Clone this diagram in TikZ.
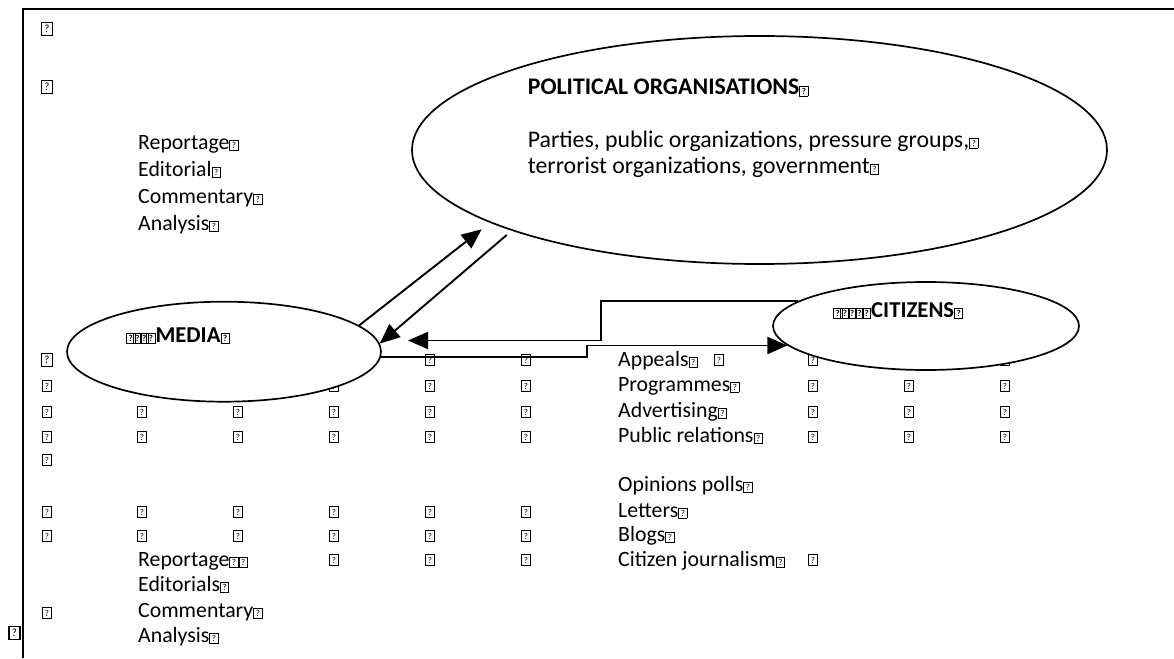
\documentclass[tikz,border=0pt]{standalone}
\usepackage{fontspec}
\setmainfont{Carlito}
\usepackage{tikz}
\usetikzlibrary{shapes.geometric}
\usetikzlibrary{arrows.meta}
\usetikzlibrary{calc}

\newcommand{\qbox}{{\setlength{\fboxsep}{0.7pt}\setlength{\fboxrule}{0.9pt}\fbox{\makebox[6pt]{\fontsize{9}{9}\selectfont\raisebox{0.5pt}[7.5pt][0pt]{?}}}}}

\tikzset{
	tabmark/.style={draw,line width=0.9pt,inner sep=0pt,minimum width=9pt,minimum height=11pt,font=\fontsize{9}{9}\selectfont},
	bigmark/.style={tabmark,line width=1.1pt,minimum width=11pt,minimum height=13.5pt,font=\fontsize{11}{11}\selectfont},
	bubble/.style={ellipse,draw,fill=white,line width=1.7pt,inner sep=0pt},
	listtext/.style={anchor=base west,inner sep=0pt,font=\fontsize{21.8}{26}\selectfont},
	orgtext/.style={anchor=base west,inner sep=0pt,font=\fontsize{23.8}{28}\selectfont},
	headtext/.style={anchor=base west,inner sep=0pt,font=\fontsize{22.7}{27}\selectfont\bfseries},
	link/.style={line width=1.9pt,-{Triangle[length=20pt,width=17pt]}}
}

\begin{document}
\begin{tikzpicture}[x=1pt,y=-1pt]
	\useasboundingbox (0,0) rectangle (1174,658);
	\draw[line width=2.4pt] (23,658) -- (23,9) -- (1174,9);
	
	\foreach \y in {386,412,437,512,536}
		\foreach \x in {47,142,238,334,430,526}
			\node[tabmark] (t-\x-\y) at (\x,\y) {?};
	\foreach \x in {142,238,334,430,526}
		\node[tabmark] (t-\x-360) at (\x,360) {?};
	\foreach \y in {360,386,412,437}
		\foreach \x in {813,909,1005}
			\node[tabmark] (t-\x-\y) at (\x,\y) {?};
	\foreach \x in {334,430,526,813}
		\node[tabmark] (t-\x-560) at (\x,560) {?};
	\node[tabmark] (t-719-360) at (719,360) {?};
	\node[tabmark] (t-47-460) at (47,460) {?};
	\node[tabmark] (t-47-613) at (47,613) {?};
	\node[tabmark] (t-530-222) at (530,222) {?};
	\node[bigmark] (b-top) at (47,29) {?};
	\node[bigmark] (b-second) at (47,87) {?};
	\node[bigmark] (b-row) at (47,360) {?};
	\node[bigmark] (b-out) at (14.5,633) {?};
	
	\node[bubble,minimum width=695pt,minimum height=228pt] (politics) at (759.5,150) {};
	\node[bubble,minimum width=314pt,minimum height=100pt] (media) at (224,351.7) {};
	\node[bubble,minimum width=306pt,minimum height=88pt] (citizens) at (926,326) {};
	
	\foreach \t/\y [count=\i] in {Reportage/149,Editorial/176,Commentary/203,Analysis/230}
		\node[listtext] (genre\i) at (138,\y) {\t\qbox};
	
	\node[headtext,font=\fontsize{23.8}{28}\selectfont\bfseries] (polhead) at (527.7,95) {POLITICAL ORGANISATIONS\qbox};
	\node[orgtext] (pol1) at (527.7,147) {Parties, public organizations, pressure groups,\qbox};
	\node[orgtext] (pol2) at (527.7,173) {terrorist organizations, government\qbox};
	
	\node[headtext] (medialabel) at (126,342) {\qbox\kern-2.5pt\qbox\kern-2.5pt\qbox\kern-2.5pt\qbox MEDIA\qbox};
	\node[headtext] (citlabel) at (833,317) {\qbox\kern-2pt\qbox\kern-2pt\qbox\kern-2pt\qbox\kern-2pt\qbox CITIZENS\qbox};
	
	\foreach \t/\y [count=\i] in {Appeals/366,Programmes/391,Advertising/417,Public relations/442,Opinions polls/491,Letters/517,Blogs/541,Citizen journalism/566}
		\node[listtext] (out\i) at (618,\y) {\t\qbox};
	
	\node[listtext] (back1) at (138,566) {Reportage\qbox\qbox};
	\foreach \t/\y [count=\i from 2] in {Editorials/591,Commentary/617,Analysis/642}
		\node[listtext] (back\i) at (138,\y) {\t\qbox};
	
	\coordinate (polin) at (481.7,229.3);
	\coordinate (polout) at (506.7,235);
	\coordinate (mediain) at (408,340.5);
	\draw[link] (media.11) -- (polin);
	\draw[link] (polout) -- (media.3);
	\draw[link] (citizens.169) -| (601,320) |- (mediain);
	\draw[link] (media.-2) -| (586.6,350) |- (citizens.188);
\end{tikzpicture}
\end{document}
